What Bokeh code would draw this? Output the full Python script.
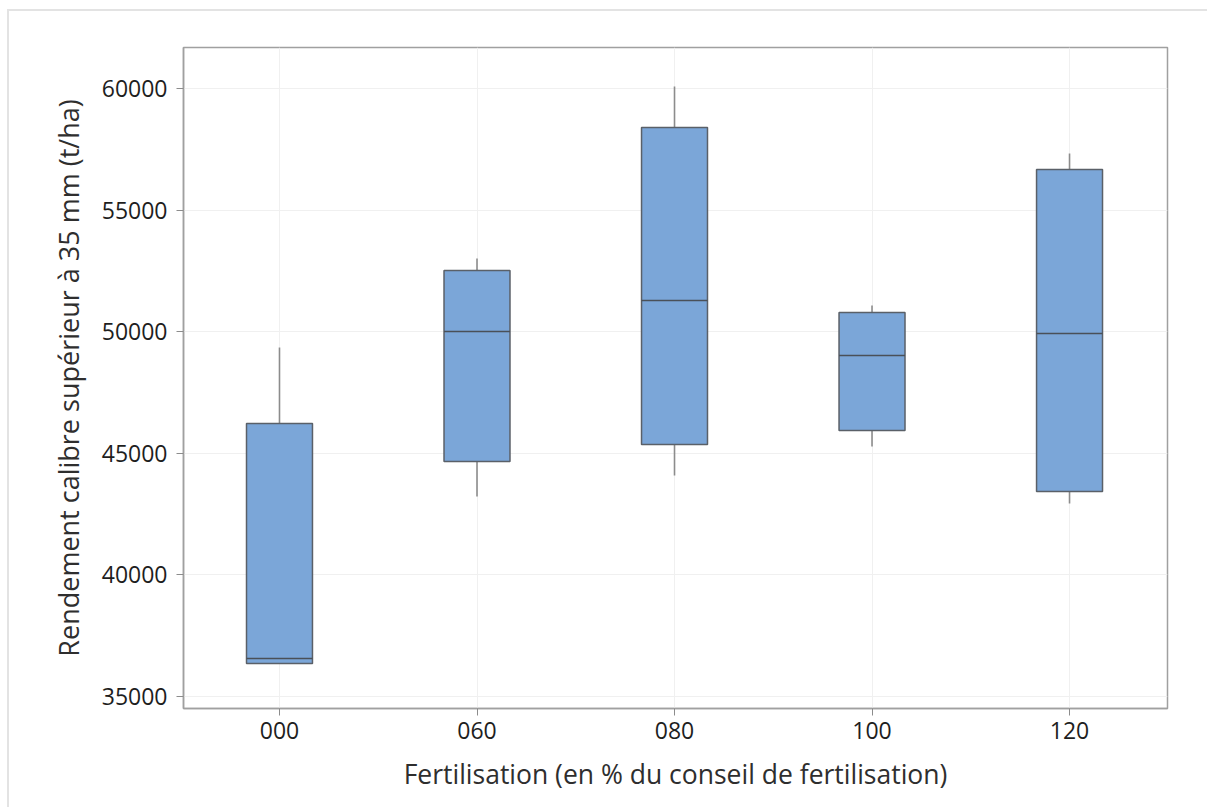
from bokeh.plotting import figure
from bokeh.models import FixedTicker, Range1d
from bokeh.embed import file_html
from bokeh.resources import INLINE

categories = ["000", "060", "080", "100", "120"]
whisker_low = [36357, 43224, 44087, 45280, 42936]
q1 = [36357, 44663, 45362, 45937, 43429]
median = [36562, 50008, 51283, 49021, 49926]
q3 = [46225, 52516, 58396, 50789, 56669]
whisker_high = [49350, 53010, 60082, 51077, 57327]
y_ticks = [35000, 40000, 45000, 50000, 55000, 60000]

FONT = "Open Sans"
xs = list(range(len(categories)))
half = 0.167

p = figure(width=1200, height=798, output_backend="svg", toolbar_location=None,
           x_range=Range1d(-0.486, 4.496), y_range=Range1d(34507, 61686),
           min_border_left=174, min_border_right=42, min_border_top=36, min_border_bottom=101)
p.styles = {"margin-top": "9px", "margin-left": "7px",
            "border-top": "2px solid #e3e3e3", "border-left": "2px solid #e3e3e3"}

# whiskers
p.segment(x0=xs, x1=xs, y0=q3, y1=whisker_high, line_color="#8c8c8c", line_width=1.6)
p.segment(x0=xs, x1=xs, y0=whisker_low, y1=q1, line_color="#8c8c8c", line_width=1.6)
# boxes
p.vbar(x=xs, width=2 * half, bottom=q1, top=q3, fill_color="#7BA6D8",
       line_color="#5a6068", line_width=1.5)
# medians
p.segment(x0=[x - half for x in xs], x1=[x + half for x in xs], y0=median, y1=median,
          line_color="#4a5058", line_width=1.6)

p.xaxis.ticker = FixedTicker(ticks=xs)
p.xaxis.major_label_overrides = {i: c for i, c in enumerate(categories)}
p.yaxis.ticker = FixedTicker(ticks=y_ticks)
p.xaxis.axis_label = "Fertilisation (en % du conseil de fertilisation)"
p.yaxis.axis_label = "Rendement calibre supérieur à 35 mm (t/ha)"

for ax in (p.xaxis, p.yaxis):
    ax.axis_line_color = "#a0a0a0"
    ax.axis_line_width = 1.5
    ax.major_tick_line_color = "#8c8c8c"
    ax.major_tick_out = 7
    ax.major_tick_in = 0
    ax.minor_tick_line_color = None
    ax.major_label_text_font = FONT
    ax.major_label_text_font_size = "23px"
    ax.major_label_text_color = "#1e1e1e"
    ax.axis_label_text_font = FONT
    ax.axis_label_text_font_style = "normal"
    ax.axis_label_text_color = "#2e2e2e"

p.yaxis.major_label_standoff = 9
p.xaxis.major_label_standoff = 6
p.xaxis.axis_label_text_font_size = "26.5px"
p.yaxis.axis_label_text_font_size = "27px"
p.yaxis.axis_label_standoff = 12
p.xaxis.axis_label_standoff = 14

p.xgrid.grid_line_color = "#f0f0f0"
p.ygrid.grid_line_color = "#f0f0f0"
p.outline_line_color = "#a0a0a0"
p.outline_line_width = 1.5
p.background_fill_color = "white"
p.border_fill_color = "white"

open("out.html", "w").write(file_html(p, INLINE))
